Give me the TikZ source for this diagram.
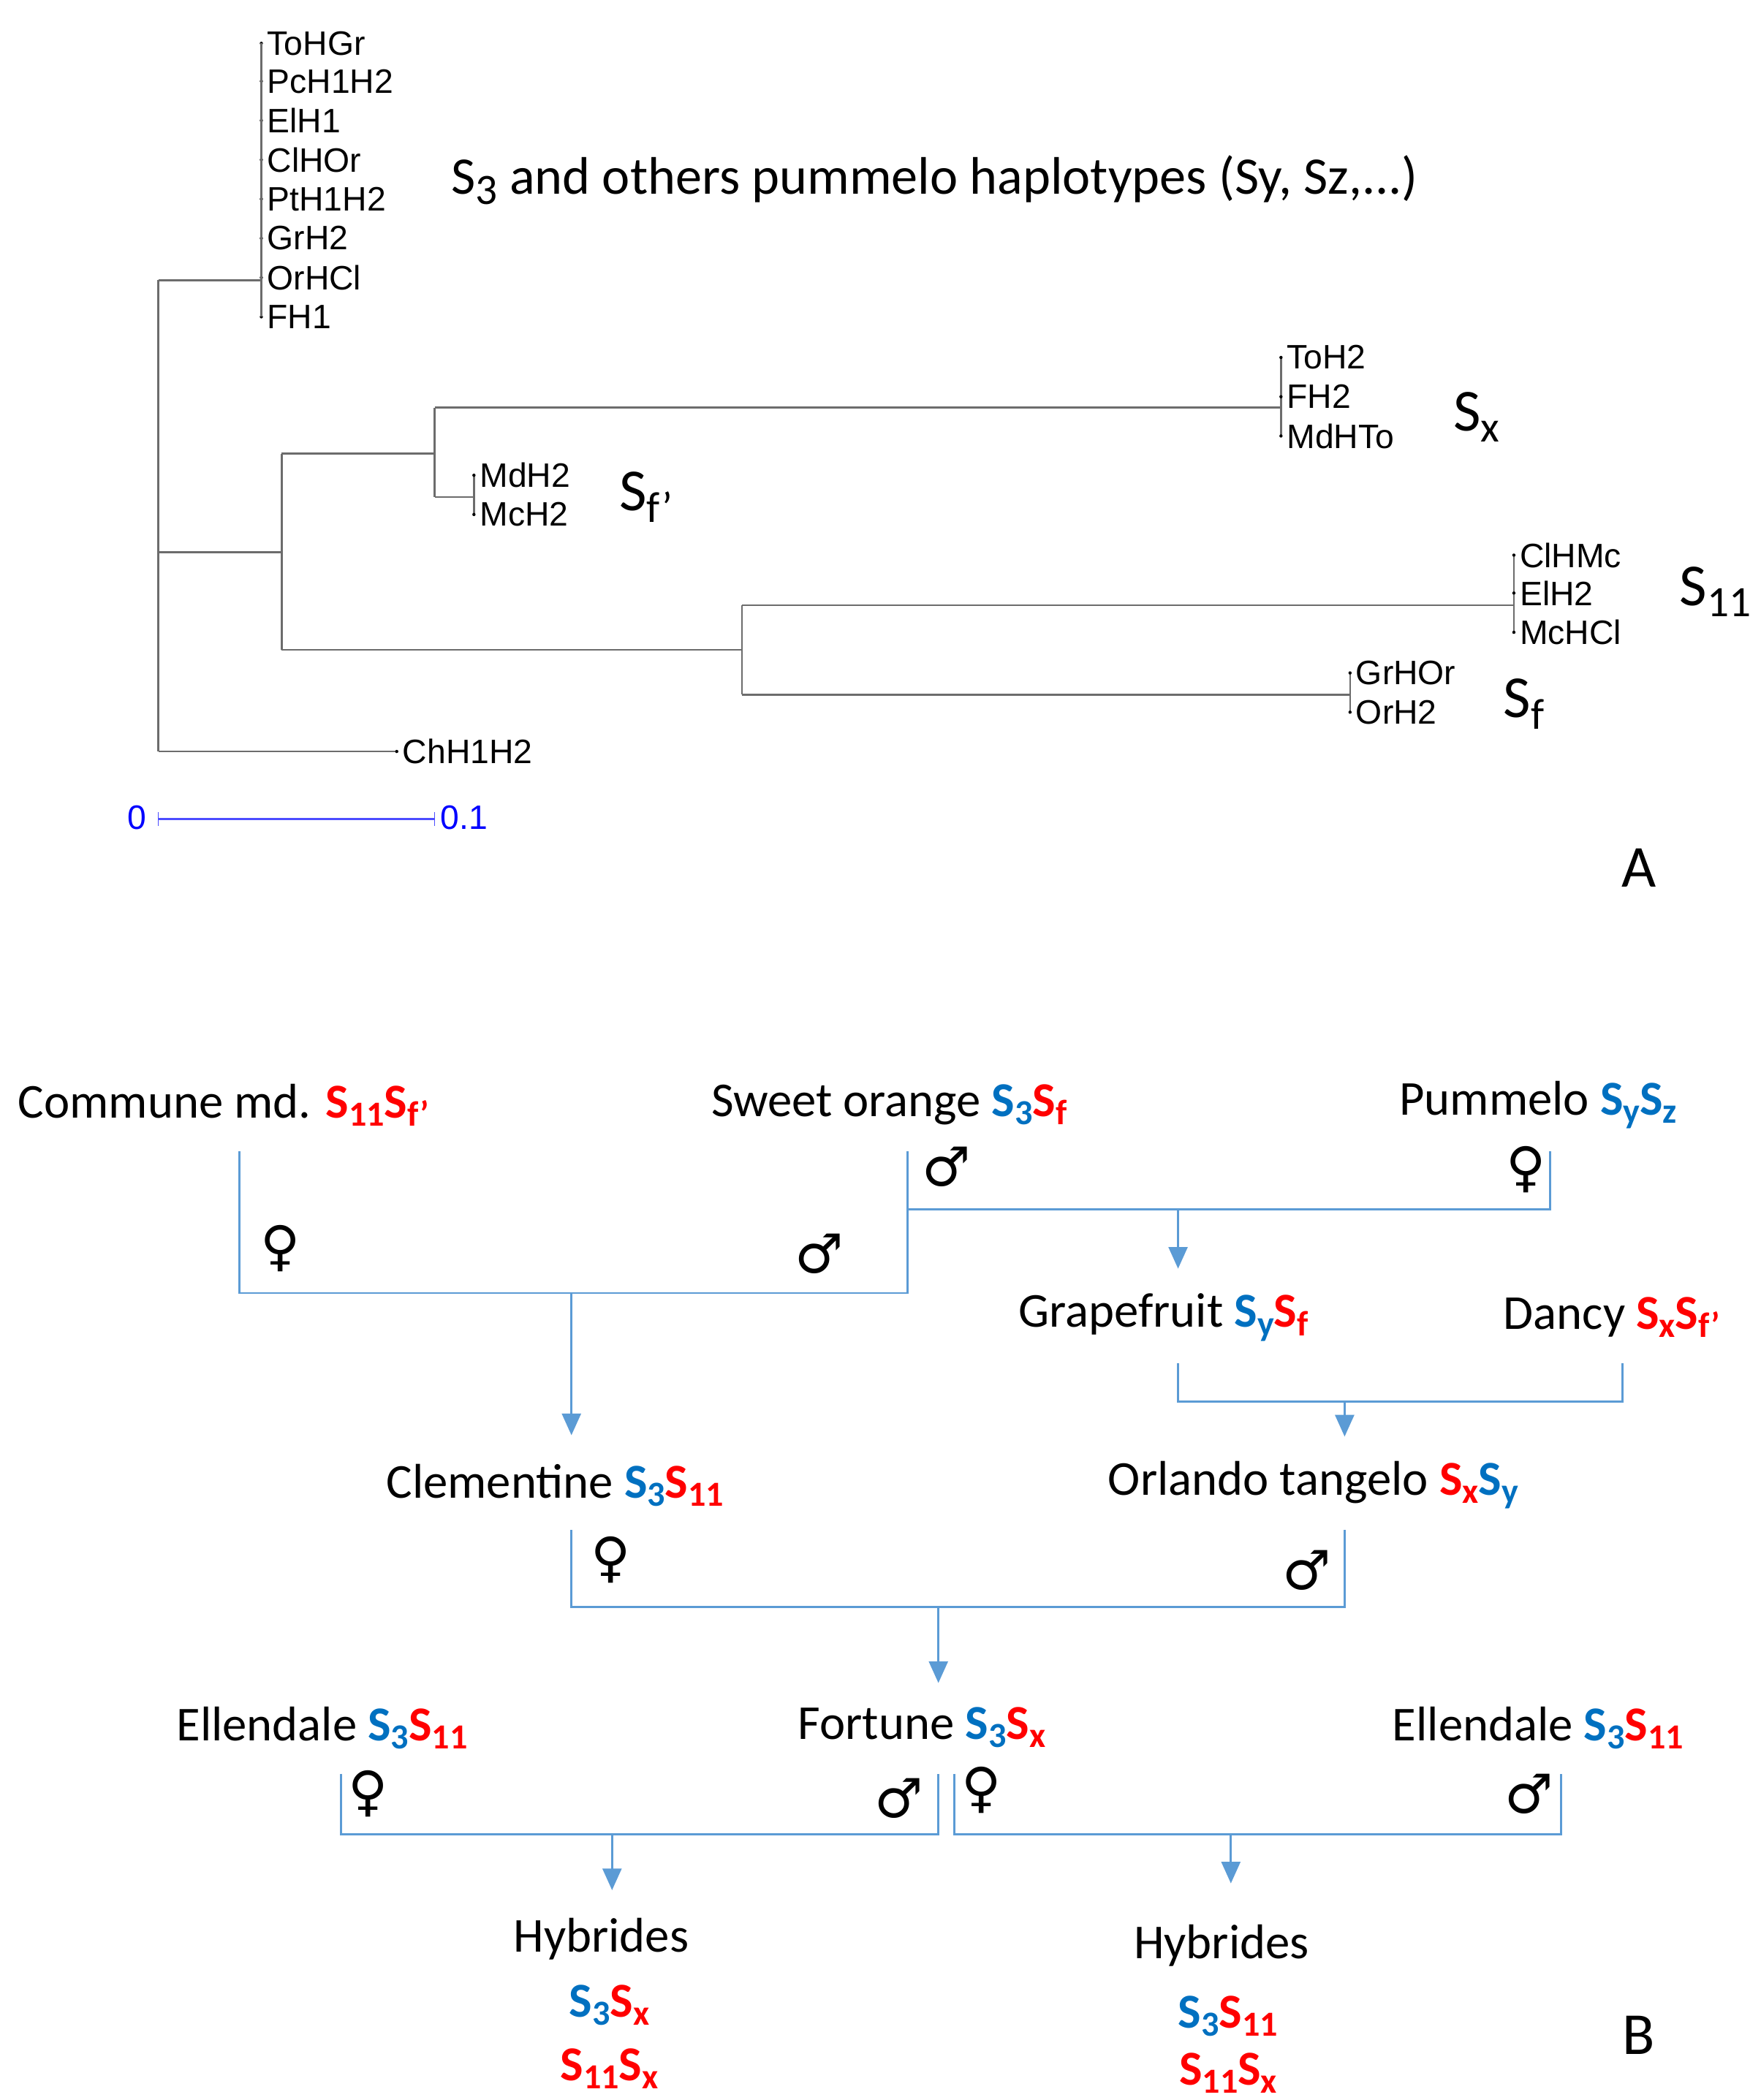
\documentclass[tikz,border=0pt]{standalone}
\usepackage{fontspec}
\setmainfont{Carlito}
\newfontfamily\arialf{Liberation Sans}
\newfontfamily\symf{DejaVu Sans}
\usetikzlibrary{arrows.meta}
\definecolor{sblue}{RGB}{0,112,192}
\definecolor{sred}{RGB}{255,0,0}
\definecolor{lblue}{RGB}{91,155,213}
\newcommand\hb[1]{\textcolor{sblue}{\textbf{S}\raisebox{-0.35ex}{\fontsize{13}{13}\selectfont\textbf{#1}}}}
\newcommand\hr[1]{\textcolor{sred}{\textbf{S}\raisebox{-0.35ex}{\fontsize{13}{13}\selectfont\textbf{#1}}}}
\newcommand\slab[1]{S\raisebox{-0.4ex}{\fontsize{16}{16}\selectfont #1}}
\begin{document}
\begin{tikzpicture}[x=0.5pt,y=-0.5pt,
 leaf/.style={anchor=west,inner sep=1pt,font=\arialf\fontsize{12.5}{12.5}\selectfont},
 br/.style={draw=gray!85!black,line width=0.7pt},
 big/.style={anchor=west,inner sep=0pt,font=\fontsize{22}{22}\selectfont},
 lab/.style={anchor=west,inner sep=0pt,font=\fontsize{18}{18}\selectfont},
 ctr/.style={inner sep=0pt,font=\fontsize{18}{18}\selectfont},
 sym/.style={inner sep=0pt,font=\symf\fontsize{20}{20}\selectfont},
 ln/.style={draw=lblue,line width=0.8pt},
 ar/.style={ln,-{Triangle[width=7pt,length=8pt]}}]
\useasboundingbox (0,0) rectangle (1300,1551);
% ---------- tree ----------
\foreach \y/\t [count=\i] in {32/ToHGr,60/PcH1H2,89/ElH1,118/ClHOr,147/PtH1H2,176/GrH2,205/OrHCl,234/FH1}{
  \fill (193,\y) circle (1.2); \node[leaf] (l\i) at (195,\y) {\t};}
\draw[br] (193,32) -- (193,234);
\draw[br] (117,207) -- (193,207);
\draw[br] (117,207) -- (117,555);
\draw[br] (117,408) -- (208,408);
\draw[br] (208,335) -- (208,480);
\draw[br] (208,335) -- (321,335);
\draw[br] (321,301) -- (321,367);
\draw[br] (321,301) -- (946,301);
\draw[br] (321,367) -- (350,367);
\draw[br] (946,264) -- (946,322);
\draw[br] (350,351) -- (350,380);
\foreach \y/\t/\n in {264/ToH2/a,293/FH2/b,322/MdHTo/c}{\fill (946,\y) circle (1.2); \node[leaf] (x\n) at (948,\y) {\t};}
\foreach \y/\t/\n in {351/MdH2/a,380/McH2/b}{\fill (350,\y) circle (1.2); \node[leaf] (f\n) at (352,\y) {\t};}
\draw[br] (208,480) -- (548,480);
\draw[br] (548,447) -- (548,513);
\draw[br] (548,447) -- (1118,447);
\draw[br] (548,513) -- (997,513);
\draw[br] (1118,410) -- (1118,467);
\draw[br] (997,497) -- (997,526);
\foreach \y/\t/\n in {410/ClHMc/a,438/ElH2/b,467/McHCl/c}{\fill (1118,\y) circle (1.2); \node[leaf] (e\n) at (1120,\y) {\t};}
\foreach \y/\t/\n in {497/GrHOr/a,526/OrH2/b}{\fill (997,\y) circle (1.2); \node[leaf] (g\n) at (999,\y) {\t};}
\draw[br] (117,555) -- (293,555);
\fill (293,555) circle (1.2);
\node[leaf] (ch) at (295,555) {ChH1H2};
\draw[draw=blue!70,line width=0.7pt] (117,605) -- (321,605);
\draw[blue!70] (117,600) -- (117,610) (321,600) -- (321,610);
\node[leaf,text=blue] at (92,604) {0};
\node[leaf,text=blue] at (323,604) {0.1};
\node[big,font=\fontsize{19.5}{19.5}\selectfont] at (333,133) {\slab{3} and others pummelo haplotypes (Sy, Sz,...)};
\node[big] at (1073,308) {\slab{x}};
\node[big] at (457,367) {\slab{f’}};
\node[big] at (1240,437) {\slab{11}};
\node[big] at (1110,520) {\slab{f}};
\node[big] at (1197,641) {A};
\node[big] at (1198,1503) {B};
% ---------- crosses ----------
\node[lab] (cm) at (13,816) {Commune md. \hr{11}\hr{f’}};
\node[lab] (so) at (525,816) {Sweet orange \hb{3}\hr{f}};
\node[lab] (pu) at (1033,816) {Pummelo \hb{y}\hb{z}};
\node[lab] (gf) at (752,973) {Grapefruit \hb{y}\hr{f}};
\node[lab] (da) at (1110,973) {Dancy \hr{x}\hr{f’}};
\node[lab] (cl) at (285,1097) {Clementine \hb{3}\hr{11}};
\node[lab] (ot) at (818,1097) {Orlando tangelo \hr{x}\hb{y}};
\node[lab] (el) at (130,1276) {Ellendale \hb{3}\hr{11}};
\node[lab] (fo) at (589,1276) {Fortune \hb{3}\hr{x}};
\node[lab] (er) at (1028,1276) {Ellendale \hb{3}\hr{11}};
\node[ctr] (h1) at (444,1432) {Hybrides};
\node[ctr] (h1a) at (450,1481) {\hb{3}\hr{x}};
\node[ctr] (h1b) at (450,1528) {\hr{11}\hr{x}};
\node[ctr] (h2) at (902,1437) {Hybrides};
\node[ctr] (h2a) at (907,1489) {\hb{3}\hr{11}};
\node[ctr] (h2b) at (907,1531) {\hr{11}\hr{x}};
% cross 1
\draw[ln] (177,850) -- (177,955) -- (670,955) -- (670,850);
\coordinate (c1) at (422,955);
\draw[ar] (c1) -- (422,1060);
\node[sym] at (207,922) {♀}; \node[sym] at (605,926) {♂};
% cross 2
\draw[ln] (670,893) -- (1145,893) -- (1145,850);
\coordinate (c2) at (870,893);
\draw[ar] (c2) -- (870,937);
\node[sym] at (699,862) {♂}; \node[sym] at (1127,864) {♀};
% cross 3
\draw[ln] (870,1007) -- (870,1035) -- (1198,1035) -- (1198,1007);
\coordinate (c3) at (993,1035);
\draw[ar] (c3) -- (993,1061);
% cross 4
\draw[ln] (422,1130) -- (422,1187) -- (993,1187) -- (993,1130);
\coordinate (c4) at (693,1187);
\draw[ar] (c4) -- (693,1243);
\node[sym] at (451,1152) {♀}; \node[sym] at (965,1160) {♂};
% cross 5
\draw[ln] (252,1310) -- (252,1355) -- (693,1355) -- (693,1310);
\coordinate (c5) at (452,1355);
\draw[ar] (c5) -- (452,1396);
\node[sym] at (272,1325) {♀}; \node[sym] at (664,1328) {♂};
% cross 6
\draw[ln] (705,1310) -- (705,1355) -- (1153,1355) -- (1153,1310);
\coordinate (c6) at (909,1355);
\draw[ar] (c6) -- (909,1391);
\node[sym] at (725,1322) {♀}; \node[sym] at (1129,1325) {♂};
\end{tikzpicture}
\end{document}
